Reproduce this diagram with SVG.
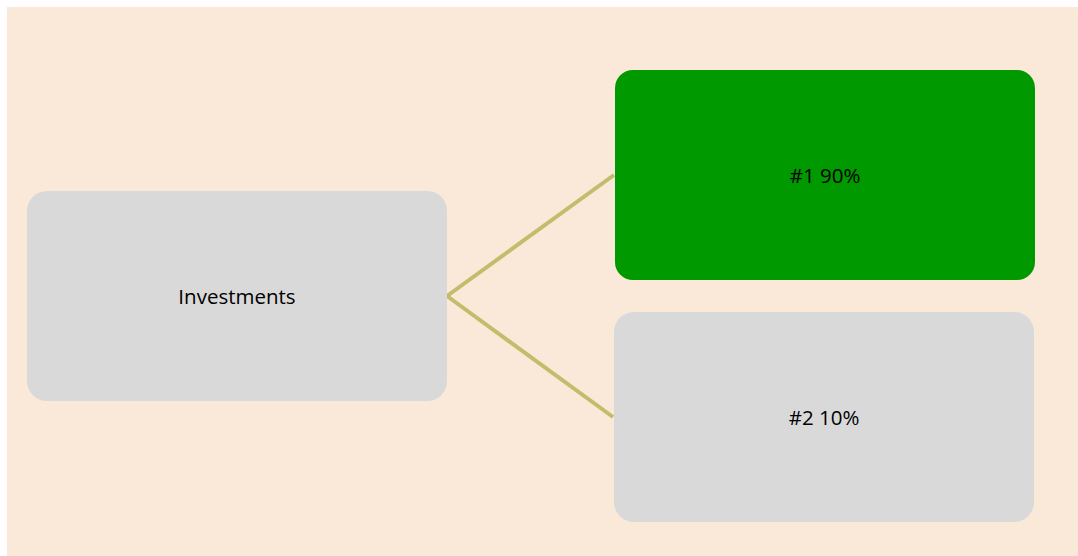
<svg xmlns="http://www.w3.org/2000/svg" width="1078" height="556" viewBox="0 0 1078 556">
  <style>
    .node { stroke: none; }
    .gray { fill: #D9D9D9; }
    .green { fill: #009900; }
    .label { font-family: "Open Sans", "Liberation Sans", sans-serif; font-size: 20.5px; fill: #000000; text-anchor: middle; dominant-baseline: central; }
    .conn { stroke: #C4BC6C; stroke-width: 4; fill: none; }
  </style>
  <rect x="0" y="0" width="1078" height="556" fill="#FFFFFF"/>
  <rect x="7" y="7" width="1071" height="549" fill="#FAE9D8"/>
  <g id="connectors">
    <line class="conn" x1="447" y1="296" x2="614" y2="175"/>
    <line class="conn" x1="447" y1="296" x2="613" y2="417"/>
  </g>
  <g id="node-investments">
    <rect class="node gray" x="27" y="191" width="420" height="210" rx="20" ry="20"/>
    <text class="label" x="237" y="296">Investments</text>
  </g>
  <g id="node-1">
    <rect class="node green" x="615" y="70" width="420" height="210" rx="18" ry="18"/>
    <text class="label" x="825" y="175">#1 90%</text>
  </g>
  <g id="node-2">
    <rect class="node gray" x="614" y="312" width="420" height="210" rx="20" ry="20"/>
    <text class="label" x="824" y="417">#2 10%</text>
  </g>
</svg>
